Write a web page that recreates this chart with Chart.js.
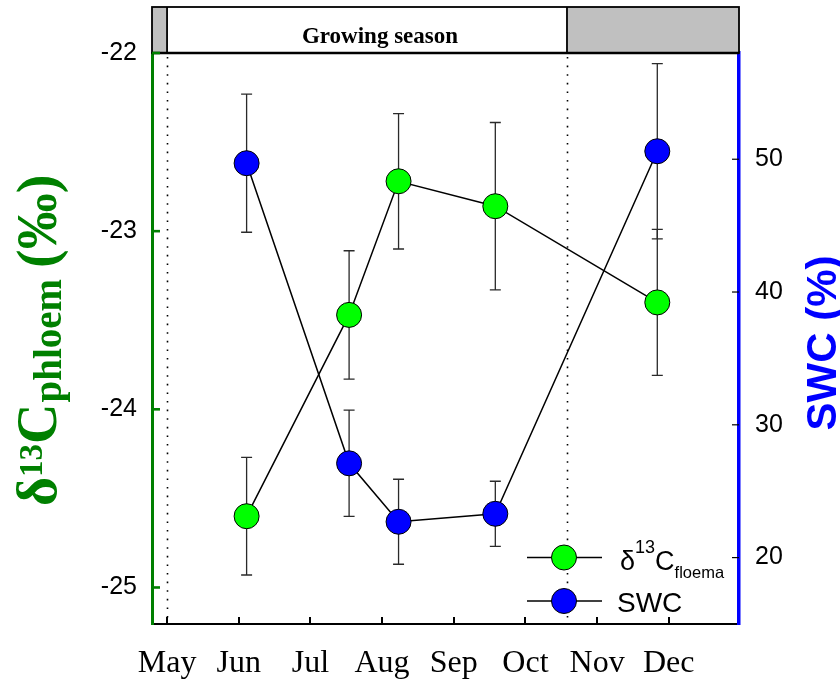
<!DOCTYPE html>
<html>
<head>
<meta charset="utf-8">
<script src="https://cdn.jsdelivr.net/npm/chart.js@4/dist/chart.umd.min.js"></script>
<style>
  html, body { margin: 0; padding: 0; background: #fff; }
  #wrap { width: 840px; height: 680px; }
</style>
</head>
<body>
<div id="wrap"><canvas id="c" width="840" height="680"></canvas></div>
<script>
// Month axis (May = 0) and sampling campaigns
const monthLabels = ['May', 'Jun', 'Jul', 'Aug', 'Sep', 'Oct', 'Nov', 'Dec'];
const monthTicks = [0, 1, 2, 3, 4, 5, 6, 7];
const sampleMonth = [1.11, 2.54, 3.23, 4.58, 6.84];

// Phloem carbon isotope ratio (‰) and its error
const d13C = [-24.60, -23.47, -22.72, -22.86, -23.40];
const d13CErr = [0.33, 0.36, 0.38, 0.47, 0.41];

// Soil water content (%) and its error
const swc = [49.7, 27.1, 22.7, 23.3, 50.6];
const swcErr = [5.2, 4.0, 3.2, 2.45, 6.6];

// Axis ticks
const d13CTicks = [-25, -24, -23, -22];
const swcTicks = [20, 30, 40, 50];

// Growing season limits on the month axis
const seasonStart = 0;
const seasonEnd = 5.58;

const SERIF = "'Liberation Serif', 'Times New Roman', serif";
const SANS = "'Liberation Sans', Arial, sans-serif";
const GREEN_AXIS = '#008000';
const GREEN_PT = '#00ff00';
const BLUE = '#0000ff';

const pts = (xs, ys) => xs.map((x, i) => ({ x: x, y: ys[i] }));

const whiteBg = {
  id: 'whiteBg',
  beforeDraw(chart) {
    const ctx = chart.ctx;
    ctx.save();
    ctx.fillStyle = '#fff';
    ctx.fillRect(0, 0, chart.width, chart.height);
    ctx.restore();
  }
};

// Dotted season limits and vertical error bars, under the series
const underlay = {
  id: 'underlay',
  beforeDatasetsDraw(chart) {
    const ctx = chart.ctx;
    const a = chart.chartArea;
    const xs = chart.scales.x;
    ctx.save();
    ctx.strokeStyle = '#000';
    ctx.lineWidth = 1.6;
    ctx.setLineDash([1.6, 7]);
    [seasonStart, seasonEnd].forEach(v => {
      const x = Math.round(xs.getPixelForValue(v)) + 0.5;
      ctx.beginPath();
      ctx.moveTo(x, a.top + 4);
      ctx.lineTo(x, a.bottom);
      ctx.stroke();
    });
    ctx.setLineDash([]);
    ctx.strokeStyle = '#2a2a2a';
    ctx.lineWidth = 1.3;
    chart.data.datasets.forEach(ds => {
      const ys = chart.scales[ds.yAxisID];
      ds.data.forEach((p, j) => {
        const x = xs.getPixelForValue(p.x);
        const t = ys.getPixelForValue(p.y + ds.errors[j]);
        const b = ys.getPixelForValue(p.y - ds.errors[j]);
        ctx.beginPath();
        ctx.moveTo(x, t); ctx.lineTo(x, b);
        ctx.moveTo(x - 5.5, t); ctx.lineTo(x + 5.5, t);
        ctx.moveTo(x - 5.5, b); ctx.lineTo(x + 5.5, b);
        ctx.stroke();
      });
    });
    ctx.restore();
  }
};

// Season band, inner tick marks, axis titles and legend
const overlay = {
  id: 'overlay',
  afterDraw(chart) {
    const ctx = chart.ctx;
    const a = chart.chartArea;
    const xs = chart.scales.x;
    const yl = chart.scales.y;
    const yr = chart.scales.y1;
    ctx.save();

    // season band
    const bandTop = 7;
    const s0 = xs.getPixelForValue(seasonStart);
    const s1 = xs.getPixelForValue(seasonEnd);
    ctx.fillStyle = '#c0c0c0';
    ctx.fillRect(a.left, bandTop, s0 - a.left, a.top - bandTop);
    ctx.fillRect(s1, bandTop, a.right - s1, a.top - bandTop);
    ctx.fillStyle = '#fff';
    ctx.fillRect(s0, bandTop, s1 - s0, a.top - bandTop);
    ctx.strokeStyle = '#000';
    ctx.lineWidth = 1.8;
    ctx.strokeRect(a.left, bandTop, a.right - a.left, a.top - bandTop);
    ctx.beginPath();
    ctx.moveTo(s0, bandTop); ctx.lineTo(s0, a.top);
    ctx.moveTo(s1, bandTop); ctx.lineTo(s1, a.top);
    ctx.stroke();
    ctx.lineWidth = 2.6;
    ctx.beginPath();
    ctx.moveTo(a.left, a.top); ctx.lineTo(a.right, a.top);
    ctx.stroke();
    ctx.fillStyle = '#000';
    ctx.font = 'bold 23px ' + SERIF;
    ctx.textAlign = 'center';
    ctx.textBaseline = 'alphabetic';
    ctx.fillText('Growing season', 380, 43);

    // inner tick marks
    ctx.strokeStyle = GREEN_AXIS;
    ctx.lineWidth = 2.6;
    d13CTicks.forEach(v => {
      const y = yl.getPixelForValue(v);
      ctx.beginPath(); ctx.moveTo(a.left, y); ctx.lineTo(a.left + 8, y); ctx.stroke();
    });
    ctx.strokeStyle = '#000';
    ctx.lineWidth = 1.2;
    swcTicks.forEach(v => {
      const y = yr.getPixelForValue(v);
      ctx.beginPath(); ctx.moveTo(a.right - 7, y); ctx.lineTo(a.right, y); ctx.stroke();
    });
    ctx.lineWidth = 2;
    monthTicks.forEach(v => {
      const x = Math.round(xs.getPixelForValue(v));
      ctx.beginPath(); ctx.moveTo(x, a.bottom); ctx.lineTo(x, a.bottom - 7); ctx.stroke();
    });

    // left axis title: δ13C phloem (‰)
    ctx.save();
    ctx.translate(56, 506);
    ctx.rotate(-Math.PI / 2);
    ctx.fillStyle = GREEN_AXIS;
    ctx.textAlign = 'left';
    let x = 0;
    const part = (txt, size, dy, gap) => {
      ctx.font = 'bold ' + size + 'px ' + SERIF;
      ctx.fillText(txt, x, dy);
      x += ctx.measureText(txt).width + (gap || 0);
    };
    part('δ', 56, 0);
    part('13', 33, -14);
    part('C', 56, 0, 1);
    part('phloem', 39, 5, 11);
    part('(‰)', 56, 0);
    ctx.restore();

    // right axis title
    ctx.save();
    ctx.translate(836, 343);
    ctx.rotate(-Math.PI / 2);
    ctx.fillStyle = BLUE;
    ctx.textAlign = 'center';
    ctx.font = 'bold 42px ' + SANS;
    ctx.fillText('SWC (%)', 0, 0);
    ctx.restore();

    // legend
    const rows = [
      { y: 557.5, fill: GREEN_PT },
      { y: 601, fill: BLUE }
    ];
    rows.forEach(r => {
      ctx.strokeStyle = '#000';
      ctx.lineWidth = 1.5;
      ctx.beginPath(); ctx.moveTo(527, r.y); ctx.lineTo(602, r.y); ctx.stroke();
      ctx.beginPath();
      ctx.arc(564, r.y, 12.5, 0, Math.PI * 2);
      ctx.fillStyle = r.fill; ctx.fill();
      ctx.lineWidth = 1; ctx.stroke();
    });
    ctx.fillStyle = '#000';
    ctx.textAlign = 'left';
    let lx = 620;
    const lpart = (txt, size, y) => {
      ctx.font = size + 'px ' + SANS;
      ctx.fillText(txt, lx, y);
      lx += ctx.measureText(txt).width;
    };
    lpart('δ', 27, 570);
    lpart('13', 18, 553);
    lpart('C', 27, 570);
    lpart('floema', 16.5, 578);
    ctx.font = '28px ' + SANS;
    ctx.fillText('SWC', 617, 612);

    ctx.restore();
  }
};

new Chart(document.getElementById('c'), {
  type: 'line',
  data: {
    datasets: [
      {
        label: 'δ13C floema',
        data: pts(sampleMonth, d13C),
        errors: d13CErr,
        yAxisID: 'y',
        borderColor: '#000',
        borderWidth: 1.5,
        pointRadius: 12.5,
        pointHoverRadius: 12.5,
        pointBackgroundColor: GREEN_PT,
        pointBorderColor: '#000',
        pointBorderWidth: 1,
        tension: 0,
        fill: false
      },
      {
        label: 'SWC',
        data: pts(sampleMonth, swc),
        errors: swcErr,
        yAxisID: 'y1',
        borderColor: '#000',
        borderWidth: 1.5,
        pointRadius: 12.5,
        pointHoverRadius: 12.5,
        pointBackgroundColor: BLUE,
        pointBorderColor: '#000',
        pointBorderWidth: 1,
        tension: 0,
        fill: false
      }
    ]
  },
  options: {
    responsive: false,
    animation: false,
    layout: { padding: { left: 0, right: 0, top: 53, bottom: 0 } },
    plugins: { legend: { display: false }, tooltip: { enabled: false } },
    scales: {
      x: {
        type: 'linear',
        position: 'bottom',
        min: -0.21,
        max: 7.98,
        afterBuildTicks: s => { s.ticks = monthTicks.map(v => ({ value: v })); },
        afterFit: s => { s.height = 56; },
        grid: { display: false, drawTicks: false },
        border: { display: true, color: '#000', width: 2 },
        ticks: {
          autoSkip: false,
          maxRotation: 0,
          padding: 20,
          color: '#000',
          font: { family: SERIF, size: 32 },
          callback: v => monthLabels[Math.round(v)]
        }
      },
      y: {
        type: 'linear',
        position: 'left',
        min: -25.205,
        max: -22,
        afterBuildTicks: s => { s.ticks = d13CTicks.map(v => ({ value: v })); },
        afterFit: s => { s.width = 152; },
        grid: { display: false, drawTicks: false },
        border: { display: true, color: GREEN_AXIS, width: 3 },
        ticks: {
          padding: 15,
          color: '#000',
          font: { family: SANS, size: 25 }
        }
      },
      y1: {
        type: 'linear',
        position: 'right',
        min: 15,
        max: 58,
        afterBuildTicks: s => { s.ticks = swcTicks.map(v => ({ value: v })); },
        afterFit: s => { s.width = 101; },
        grid: { display: false, drawTicks: false },
        border: { display: true, color: BLUE, width: 3.5 },
        ticks: {
          padding: 16,
          color: '#000',
          font: { family: SANS, size: 25 }
        }
      }
    }
  },
  plugins: [whiteBg, underlay, overlay]
});
</script>
</body>
</html>
